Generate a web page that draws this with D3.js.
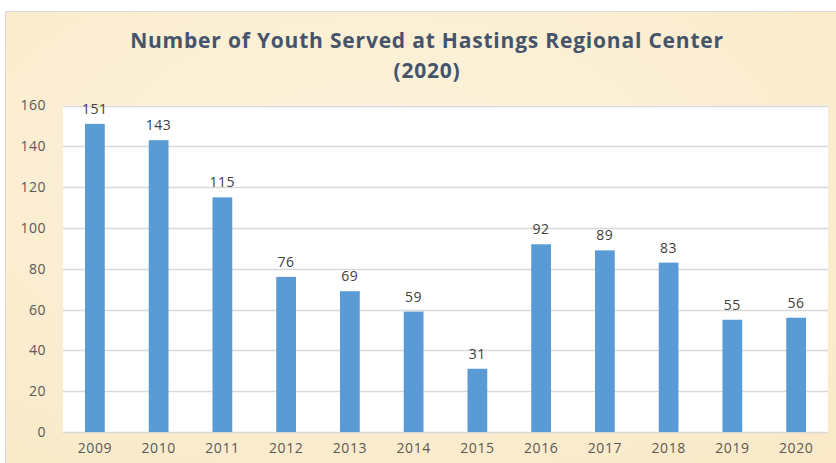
<!DOCTYPE html>
<html>
<head>
<meta charset="utf-8">
<script src="https://cdn.jsdelivr.net/npm/d3@7"></script>
<style>
  body { margin: 0; background: #fff; }
  svg { display: block; }
</style>
</head>
<body>
<div id="chart"></div>
<script>
const years = ['2009', '2010', '2011', '2012', '2013', '2014', '2015', '2016', '2017', '2018', '2019', '2020']
const youthServed = [151, 143, 115, 76, 69, 59, 31, 92, 89, 83, 55, 56]
const yTicks = [0, 20, 40, 60, 80, 100, 120, 140, 160]
const titleLines = ['Number of Youth Served at Hastings Regional Center', '(2020)']

const W = 836
const H = 463
const plot = { left: 63, right: 828, top: 105.5, bottom: 432 }
const labelFont = 'Open Sans, sans-serif'

const svg = d3.select('#chart')
  .append('svg')
  .attr('width', W)
  .attr('height', H)

// parchment-like background
const defs = svg.append('defs')
const grad = defs.append('radialGradient')
  .attr('id', 'paper')
  .attr('cx', '45%').attr('cy', '35%').attr('r', '80%')
grad.append('stop').attr('offset', '0%').attr('stop-color', '#fdf3dc')
grad.append('stop').attr('offset', '100%').attr('stop-color', '#f9e9c8')

svg.append('rect')
  .attr('x', 5.5).attr('y', 11.5)
  .attr('width', W).attr('height', H)
  .attr('fill', 'url(#paper)')
  .attr('stroke', '#d9d9d9')

svg.append('rect')
  .attr('x', plot.left).attr('y', plot.top)
  .attr('width', plot.right - plot.left).attr('height', plot.bottom - plot.top)
  .attr('fill', '#fff')

const x = d3.scaleBand()
  .domain(years)
  .range([plot.left, plot.right])
  .paddingInner(0.69)
  .paddingOuter(0.345)

const y = d3.scaleLinear()
  .domain([0, 160])
  .range([plot.bottom, plot.top])

// gridlines
svg.append('g')
  .selectAll('line')
  .data(yTicks)
  .join('line')
  .attr('x1', plot.left)
  .attr('x2', plot.right)
  .attr('y1', d => Math.round(y(d)) + 0.5)
  .attr('y2', d => Math.round(y(d)) + 0.5)
  .attr('stroke', '#d9d9d9')
  .attr('stroke-width', 1.3)

// y axis labels
svg.append('g')
  .attr('transform', `translate(${plot.left},0)`)
  .call(d3.axisLeft(y).tickValues(yTicks).tickSize(0).tickPadding(17))
  .call(g => g.select('.domain').remove())
  .selectAll('text')
  .attr('font-family', labelFont)
  .attr('font-size', 14)
  .attr('letter-spacing', 0.5)
  .attr('fill', '#595959')

// x axis labels
svg.append('g')
  .attr('transform', `translate(0,${plot.bottom})`)
  .call(d3.axisBottom(x).tickSize(0).tickPadding(11))
  .call(g => g.select('.domain').remove())
  .selectAll('text')
  .attr('font-family', labelFont)
  .attr('font-size', 14)
  .attr('letter-spacing', 0.6)
  .attr('fill', '#595959')

const data = years.map((yr, i) => ({ year: yr, value: youthServed[i] }))

svg.append('g')
  .selectAll('rect')
  .data(data)
  .join('rect')
  .attr('x', d => x(d.year))
  .attr('y', d => y(d.value))
  .attr('width', x.bandwidth())
  .attr('height', d => y(0) - y(d.value))
  .attr('fill', '#5b9bd5')

svg.append('g')
  .selectAll('text')
  .data(data)
  .join('text')
  .attr('x', d => x(d.year) + x.bandwidth() / 2)
  .attr('y', d => y(d.value) - 10)
  .attr('text-anchor', 'middle')
  .attr('font-family', labelFont)
  .attr('font-size', 14)
  .attr('letter-spacing', 0.5)
  .attr('fill', '#404040')
  .text(d => d.value)

svg.append('text')
  .attr('text-anchor', 'middle')
  .attr('font-family', labelFont)
  .attr('font-weight', 'bold')
  .attr('font-size', 21)
  .attr('letter-spacing', 0.8)
  .attr('fill', '#44546a')
  .selectAll('tspan')
  .data(titleLines)
  .join('tspan')
  .attr('x', 427)
  .attr('y', (d, i) => 48 + i * 30)
  .text(d => d)
</script>
</body>
</html>
